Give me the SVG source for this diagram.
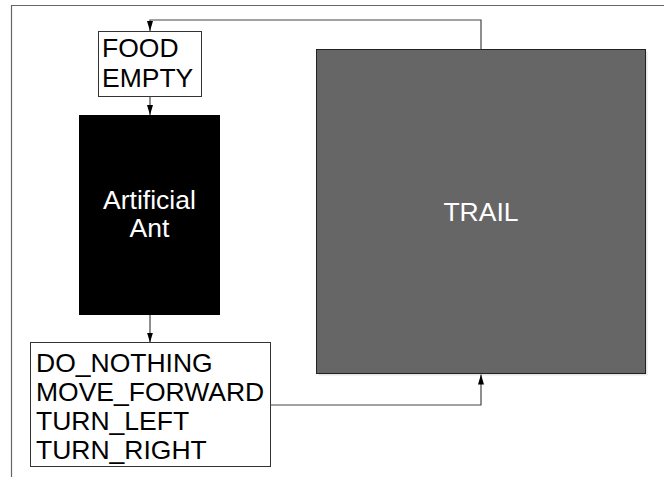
<svg xmlns="http://www.w3.org/2000/svg" width="664" height="478" viewBox="0 0 664 478">
  <style>
    .lbl { font-family: "Liberation Sans", Arial, sans-serif; font-size: 26.5px; }
    .box { fill: #ffffff; stroke: #333333; stroke-width: 1; }
    .wire { fill: none; stroke: #444444; stroke-width: 1.2; }
  </style>
  <defs>
    <marker id="arrow" viewBox="0 0 10 7" refX="10" refY="3.5" markerWidth="10" markerHeight="7" markerUnits="userSpaceOnUse" orient="auto">
      <path d="M0,0.5 L10,3.5 L0,6.5 Z" fill="#000000"/>
    </marker>
  </defs>

  <rect width="664" height="478" fill="#ffffff"/>
  <!-- outer frame -->
  <path d="M11.5,477 V5.5 H664" fill="none" stroke="#666666" stroke-width="1.2"/>

  <g id="food-sensor">
    <rect class="box" x="98.5" y="31.5" width="103" height="65"/>
    <text class="lbl" x="102" y="57">FOOD</text>
    <text class="lbl" x="102" y="87">EMPTY</text>
  </g>

  <g id="artificial-ant">
    <rect x="79" y="115" width="141" height="200" fill="#000000"/>
    <text class="lbl" x="149.5" y="209" fill="#ffffff" text-anchor="middle">Artificial</text>
    <text class="lbl" x="149.5" y="237" fill="#ffffff" text-anchor="middle">Ant</text>
  </g>

  <g id="actions">
    <rect class="box" x="30.5" y="342.5" width="240" height="124"/>
    <text class="lbl" x="36" y="371.5">DO_NOTHING</text>
    <text class="lbl" x="36" y="400.5">MOVE_FORWARD</text>
    <text class="lbl" x="36" y="429.5">TURN_LEFT</text>
    <text class="lbl" x="36" y="458.5">TURN_RIGHT</text>
  </g>

  <g id="trail">
    <rect x="318.5" y="51.5" width="329" height="324" fill="#e6e6e6"/>
    <rect x="316.5" y="49.5" width="329" height="324" fill="#666666" stroke="#222222" stroke-width="1"/>
    <text class="lbl" x="481" y="221" fill="#ffffff" text-anchor="middle">TRAIL</text>
  </g>

  <g id="connectors">
    <path class="wire" d="M481,49.5 V20 H150 V31" marker-end="url(#arrow)"/>
    <path class="wire" d="M150,96.5 V115" marker-end="url(#arrow)"/>
    <path class="wire" d="M150,315 V342.5" marker-end="url(#arrow)"/>
    <path class="wire" d="M270.5,405 H481 V374.5" marker-end="url(#arrow)"/>
  </g>
</svg>
